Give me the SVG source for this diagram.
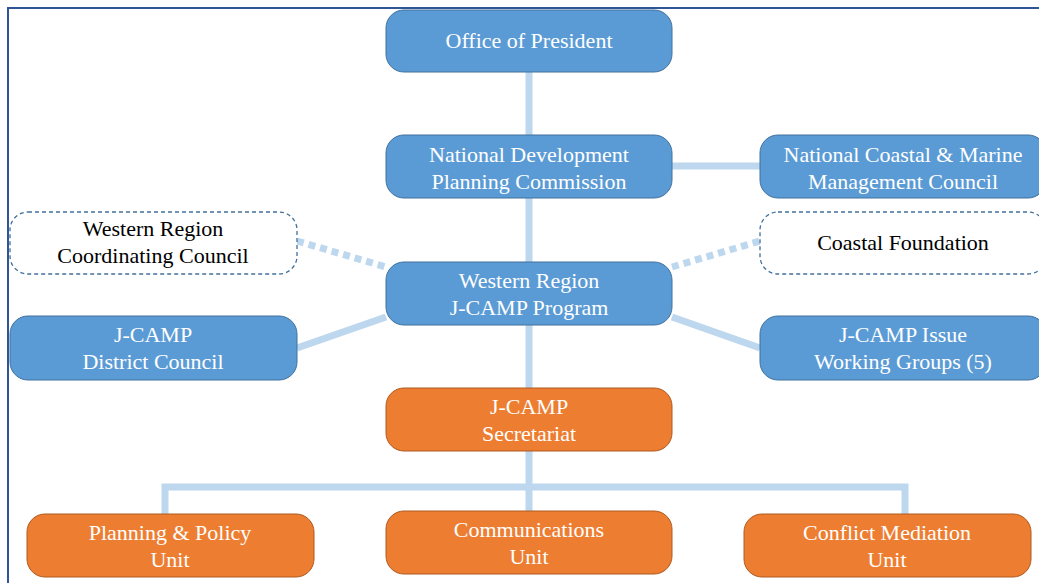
<svg xmlns="http://www.w3.org/2000/svg" width="1039" height="583" viewBox="0 0 1039 583">
<style>
.b{fill:#5b9bd5;stroke:#41719c;stroke-width:1}
.o{fill:#ed7d31;stroke:#ae5a21;stroke-width:1}
.d{fill:#fff;stroke:#41719c;stroke-width:1.3;stroke-dasharray:4 3}
.c{stroke:#bdd7ee;stroke-width:7;fill:none}
.cd{stroke:#bdd7ee;stroke-width:7;fill:none;stroke-dasharray:7 5}
text{font-family:"Liberation Serif",serif;font-size:22px;text-anchor:middle}
.w{fill:#fff}
.k{fill:#000}
</style>
<rect x="0" y="0" width="1039" height="583" fill="#fff"/>
<rect x="8" y="8" width="1045" height="600" fill="none" stroke="#2f5597" stroke-width="2"/>
<g id="connectors">
<path class="c" d="M529 72V135M529 198V262M529 325V388M529 451V511M672 166H760M386 317L297 348M672 317L760 348M165 514V487H905V514"/>
<path class="cd" d="M297 241L386 267M672 267L760 241"/>
</g>
<g id="office"><rect class="b" x="386" y="10" width="286" height="62" rx="18"/><text class="w" x="529" y="48">Office of President</text></g>
<g id="ndpc"><rect class="b" x="386" y="135" width="286" height="63" rx="18"/><text class="w" x="529" y="162">National Development</text><text class="w" x="529" y="189">Planning Commission</text></g>
<g id="ncmmc"><rect class="b" x="760" y="135" width="286" height="63" rx="18"/><text class="w" x="903" y="162">National Coastal &amp; Marine</text><text class="w" x="903" y="189">Management Council</text></g>
<g id="wrcc"><rect class="d" x="10" y="212" width="287" height="62" rx="18"/><text class="k" x="153" y="236">Western Region</text><text class="k" x="153" y="263">Coordinating Council</text></g>
<g id="coastal"><rect class="d" x="760" y="212" width="286" height="62" rx="18"/><text class="k" x="903" y="250">Coastal Foundation</text></g>
<g id="wrjcamp"><rect class="b" x="386" y="262" width="286" height="63" rx="18"/><text class="w" x="529" y="288">Western Region</text><text class="w" x="529" y="315">J-CAMP Program</text></g>
<g id="district"><rect class="b" x="10" y="316" width="287" height="64" rx="18"/><text class="w" x="153" y="342">J-CAMP</text><text class="w" x="153" y="369">District Council</text></g>
<g id="issue"><rect class="b" x="760" y="316" width="286" height="64" rx="18"/><text class="w" x="903" y="342">J-CAMP Issue</text><text class="w" x="903" y="369">Working Groups (5)</text></g>
<g id="secretariat"><rect class="o" x="386" y="388" width="286" height="63" rx="18"/><text class="w" x="529" y="414">J-CAMP</text><text class="w" x="529" y="441">Secretariat</text></g>
<g id="planning"><rect class="o" x="27" y="514" width="287" height="63" rx="18"/><text class="w" x="170" y="540">Planning &amp; Policy</text><text class="w" x="170" y="567">Unit</text></g>
<g id="comms"><rect class="o" x="386" y="511" width="286" height="63" rx="18"/><text class="w" x="529" y="537">Communications</text><text class="w" x="529" y="564">Unit</text></g>
<g id="conflict"><rect class="o" x="744" y="514" width="287" height="63" rx="18"/><text class="w" x="887" y="540">Conflict Mediation</text><text class="w" x="887" y="567">Unit</text></g>
</svg>
